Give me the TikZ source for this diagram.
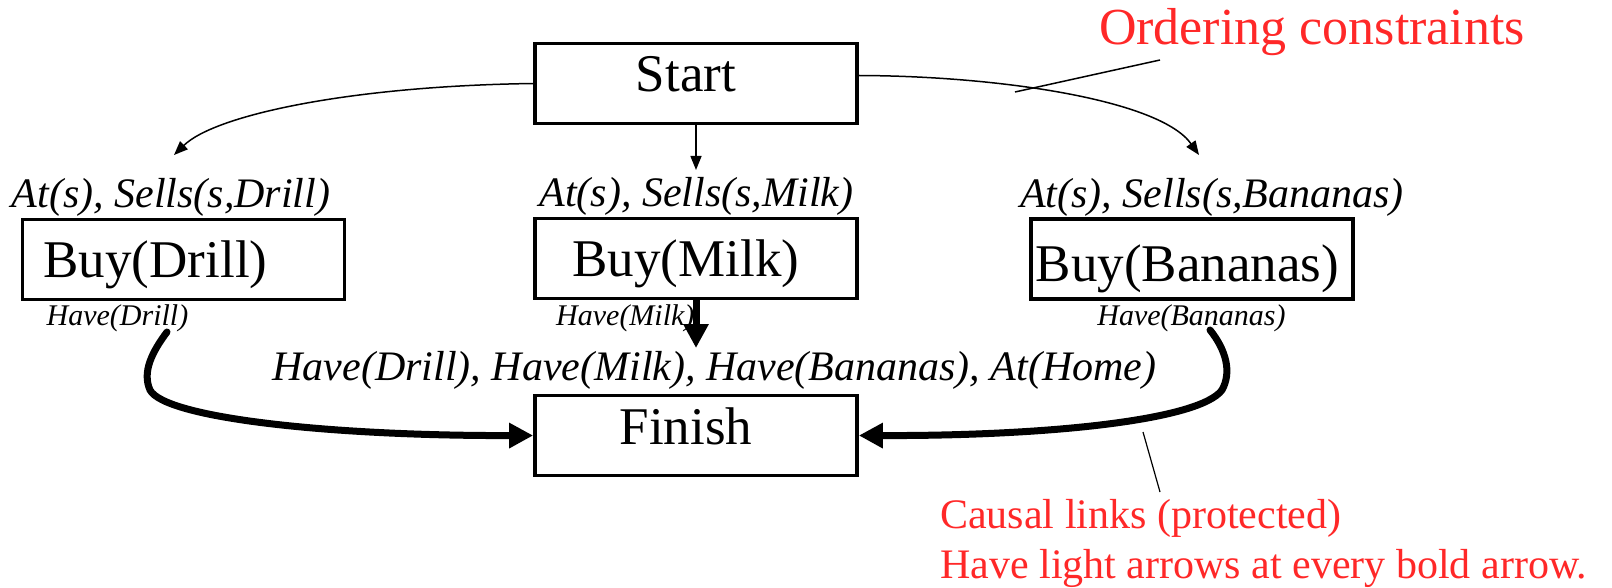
\documentclass[tikz,border=0pt]{standalone}
\usepackage{fontspec}
\setmainfont{Liberation Serif}
\usepackage{xcolor}
\usetikzlibrary{arrows.meta}
\definecolor{notered}{RGB}{255,40,40}

\begin{document}
\begin{tikzpicture}[x=1pt,y=-1pt,
    box/.style={shape=rectangle, draw, line width=3.7pt, minimum width=322pt, minimum height=80pt,
      inner sep=0pt, text height=36pt, text depth=0pt, font=\fontsize{53}{60}\selectfont},
    pre/.style={anchor=base, inner sep=0pt, font=\fontsize{42}{48}\selectfont\itshape},
    post/.style={anchor=base, inner sep=0pt, font=\fontsize{30}{36}\selectfont\itshape},
    note/.style={anchor=base west, inner sep=0pt, text=notered},
    order/.style={line width=1.5pt, -{Triangle[length=14pt,width=11pt]}},
    causal/.style={line width=7pt, line cap=round, -{Triangle[length=24pt,width=24pt]}}]

    \useasboundingbox (0,0) rectangle (1612,588);

    \node[box, text depth=19pt] (start) at (696,83.5) {Start\hspace*{20pt}};
    \node[box] (drill) at (183.5,259.5) {Buy(Drill)\hspace*{56pt}};
    \node[box] (milk) at (696,258.5) {Buy(Milk)\hspace*{20pt}};
    \node[box, text height=44pt] (bananas) at (1192,259) {Buy(Bananas)\hspace*{9pt}};
    \node[box, text depth=19pt] (finish) at (696,435.5) {Finish\hspace*{20pt}};

    \node[pre] (predrill) at (171,208) {At(s), Sells(s,Drill)};
    \node[pre] (premilk) at (696.5,207) {At(s), Sells(s,Milk)};
    \node[pre] (prebananas) at (1212,208) {At(s), Sells(s,Bananas)};
    \node[pre] (prefinish) at (714.5,380) {Have(Drill), Have(Milk), Have(Bananas), At(Home)};

    \node[post] (havedrill) at (117.5,325) {Have(Drill)};
    \node[post, anchor=base west] (havemilk) at (556,325) {Have(Milk)};
    \node[post] (havebananas) at (1191.5,325) {Have(Bananas)};

    \node[note, anchor=base, font=\fontsize{52}{60}\selectfont] (ordering) at (1312,45) {Ordering constraints};
    \node[note, font=\fontsize{42}{50}\selectfont] (causal) at (940,528) {Causal links (protected)};
    \node[note, font=\fontsize{42}{50}\selectfont] (lightarrows) at (940,578) {Have light arrows at every bold arrow.};

    \coordinate (drillin) at (174,155);
    \coordinate (milkin) at (696,170);
    \coordinate (bananasin) at (1199,155);
    \coordinate (drillout) at (167,332);
    \coordinate (milkout) at (696,348);
    \coordinate (bananasout) at (1210,330);
    \coordinate (ordertail) at (1160,60);
    \coordinate (orderhead) at (1015,92);
    \coordinate (causaltail) at (1143,432);
    \coordinate (causalhead) at (1160,492);

    \draw[order] (start.west) .. controls (350,86) and (215,115) .. (drillin);
    \draw[order] (start.south) -- (milkin);
    \draw[order] ([yshift=8pt]start.east) .. controls (1000,76) and (1160,100) .. (bananasin);

    \draw[causal] (drillout) .. controls (152,352) and (142,372) .. (150,390)
        .. controls (165,418) and (330,436) .. (finish.west);
    \draw[causal, line cap=butt] (milk.south) -- (milkout);
    \draw[causal] (bananasout) .. controls (1226,350) and (1232,372) .. (1222,390)
        .. controls (1200,420) and (1050,436) .. (finish.east);

    \draw[line width=1.5pt] (ordertail) -- (orderhead);
    \draw[line width=1.2pt] (causaltail) -- (causalhead);
\end{tikzpicture}
\end{document}
